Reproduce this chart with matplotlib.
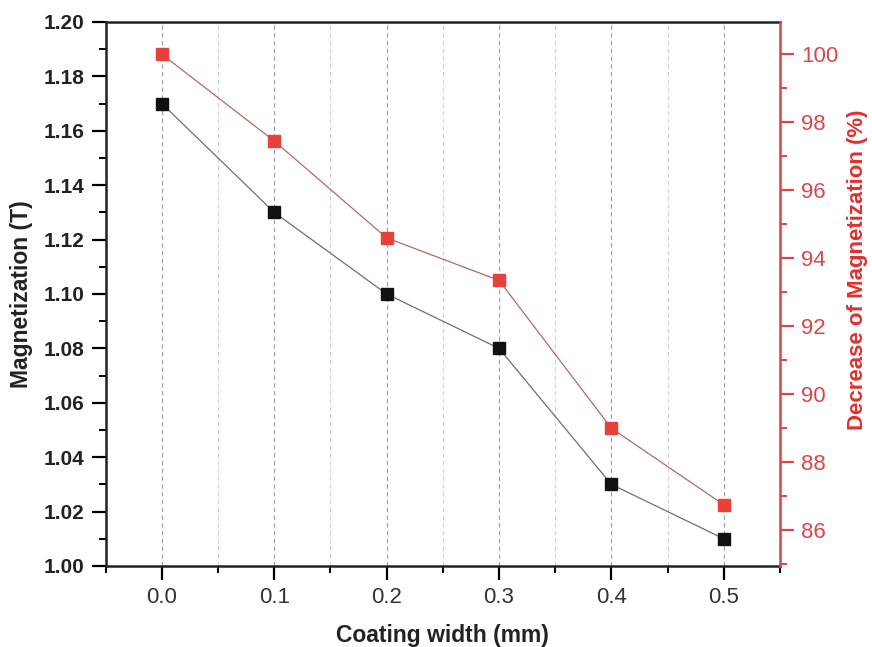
import matplotlib.pyplot as plt
from matplotlib.ticker import MultipleLocator

plt.rcParams['font.family'] = ['Liberation Sans', 'DejaVu Sans']

coatingWidth = [0.0, 0.1, 0.2, 0.3, 0.4, 0.5]
magnetization = [1.17, 1.13, 1.10, 1.08, 1.03, 1.01]
decreasePct = [100.0, 97.45, 94.6, 93.35, 89.0, 86.75]
leftTicks = [1.00, 1.02, 1.04, 1.06, 1.08, 1.10, 1.12, 1.14, 1.16, 1.18, 1.20]
rightTicks = [86, 88, 90, 92, 94, 96, 98, 100]

redColor = '#e8403b'
axisRed = '#d9474a'

fig = plt.figure(figsize = (8.72, 6.47), dpi = 100)
ax = fig.add_axes([0.1212, 0.1252, 0.7733, 0.8408])

ax.plot(coatingWidth, magnetization, color = '#6e6e6e', linewidth = 0.9,
	marker = 's', markersize = 9, markerfacecolor = '#111111', markeredgecolor = '#111111', zorder = 3)

ax.set_xlim(-0.05, 0.55)
ax.set_ylim(1.00, 1.20)
ax.xaxis.set_minor_locator(MultipleLocator(0.05))
ax.yaxis.set_minor_locator(MultipleLocator(0.01))
ax.set_xticks(coatingWidth)
ax.set_xticklabels([f'{v:.1f}' for v in coatingWidth], fontsize = 16, color = '#333333')
ax.set_yticks(leftTicks)
ax.set_yticklabels([f'{v:.2f}' for v in leftTicks], fontsize = 15, fontweight = 'bold', color = '#222222')

ax.grid(axis = 'x', which = 'major', linestyle = (0, (4, 3)), color = '#9a9a9a', linewidth = 0.8)
ax.grid(axis = 'x', which = 'minor', linestyle = (0, (4, 3)), color = '#cfcfcf', linewidth = 0.8)

ax.tick_params(axis = 'both', which = 'major', direction = 'out', length = 10, width = 1.6, pad = 5)
ax.tick_params(axis = 'both', which = 'minor', direction = 'out', length = 5, width = 1.4)
ax.tick_params(axis = 'x', which = 'both', top = False)
for side in ['left', 'bottom', 'top']:
	ax.spines[side].set_linewidth(1.8)
	ax.spines[side].set_color('#222222')

ax.set_xlabel('Coating width (mm)', fontsize = 16.5, fontweight = 'bold', labelpad = 12, color = '#222222')
ax.set_ylabel('Magnetization (T)', fontsize = 16.5, fontweight = 'bold', color = '#222222')
ax.yaxis.set_label_coords(-0.108, 0.5)

ax2 = ax.twinx()
ax2.plot(coatingWidth, decreasePct, color = '#b06a68', linewidth = 0.9,
	marker = 's', markersize = 9, markerfacecolor = redColor, markeredgecolor = redColor, zorder = 3)
ax2.set_ylim(84.95, 100.95)
ax2.yaxis.set_minor_locator(MultipleLocator(1))
ax2.set_yticks(rightTicks)
ax2.set_yticklabels([str(v) for v in rightTicks], fontsize = 16, color = axisRed)
ax2.tick_params(axis = 'y', which = 'major', direction = 'out', length = 10, width = 1.6, color = axisRed, pad = 5)
ax2.tick_params(axis = 'y', which = 'minor', direction = 'out', length = 5, width = 1.4, color = axisRed)
ax2.spines['right'].set_color(axisRed)
ax2.spines['right'].set_linewidth(1.8)
for side in ['left', 'bottom', 'top']:
	ax2.spines[side].set_visible(False)
ax2.set_ylabel('Decrease of Magnetization (%)', fontsize = 16, fontweight = 'bold', color = '#e0302e')
ax2.yaxis.set_label_coords(1.100, 0.544)

fig.savefig('out.png', dpi = 100)
